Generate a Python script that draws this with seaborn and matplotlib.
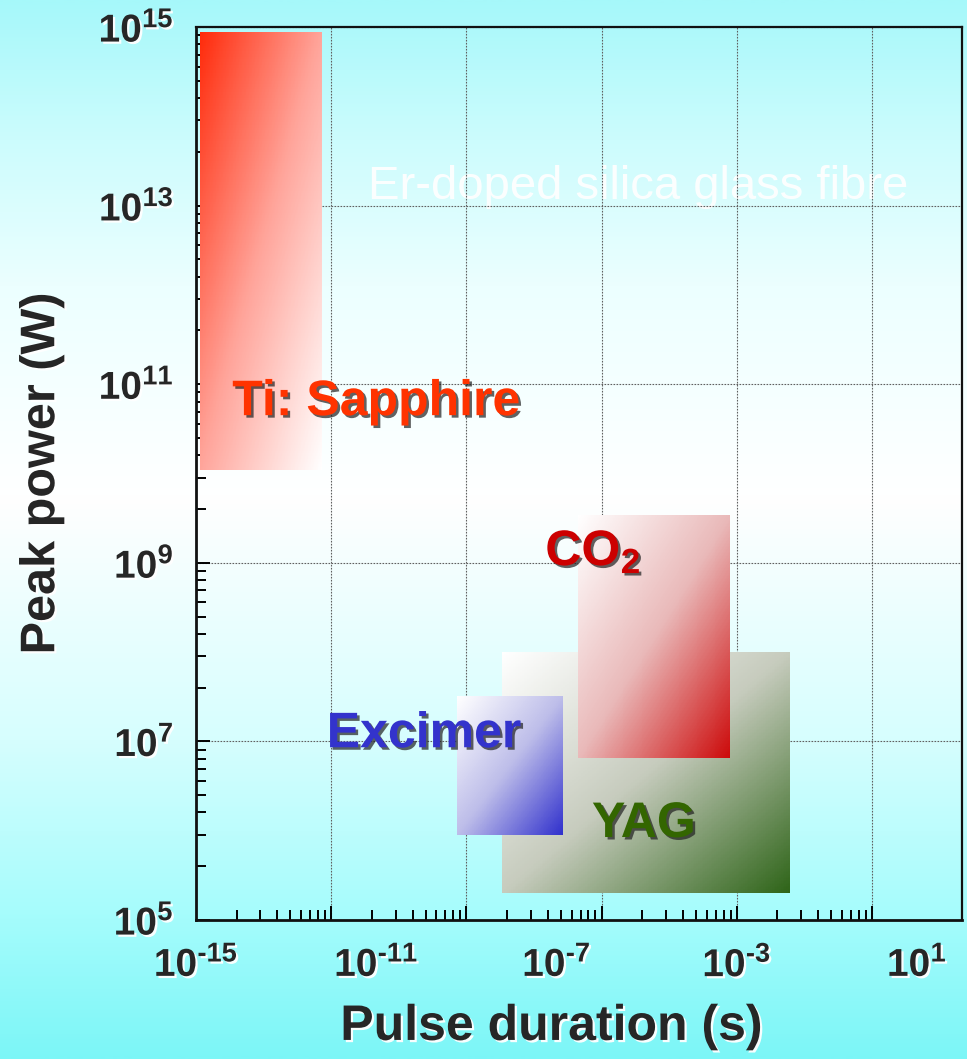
import numpy as np
import matplotlib
matplotlib.use("Agg")
import matplotlib.pyplot as plt
import matplotlib.patheffects as pe
from matplotlib.colors import LinearSegmentedColormap
from matplotlib.ticker import FixedLocator, NullLocator, NullFormatter
import seaborn as sns

# ---------------- data ----------------
lasers = ["Ti: Sapphire", "YAG", "Excimer", "CO2"]
label_text = ["Ti: Sapphire", "YAG", "Excimer", r"$\mathbf{CO_2}$"]
dur_min = [1.2e-15, 6.2e-9, 6.2e-10, 3.0e-7]     # s
dur_max = [6.3e-13, 1.5e-2, 1.4e-7, 7.0e-4]      # s
pow_min = [1.1e10, 2.0e5, 9.0e5, 6.5e6]          # W
pow_max = [8.8e14, 1.0e8, 3.2e7, 3.4e9]          # W
grad_colors = [
    ["#ff2a0a", "#ffa49a", "#ffffff"],
    ["#ffffff", "#c6cbbd", "#2e6418"],
    ["#ffffff", "#bdbde9", "#3030cc"],
    ["#ffffff", "#e9b9b9", "#cc0a0a"],
]
text_colors = ["#ff3300", "#336600", "#3333cc", "#cc0000"]
label_x = [1.0e-11, 8.7e-6, 1.15e-10, 6.5e-7]
label_y = [4.5e10, 8.5e5, 8.6e6, 9.4e8]

xtick_exp = [-15, -11, -7, -3, 1]
ytick_exp = [5, 7, 9, 11, 13, 15]
xgrid_exp = [-12, -9, -6, -3, 0]

fibre_text = "Er-doped silica glass fibre"
fibre_x, fibre_y = 6.5e-6, 1.2e13

# ---------------- style ----------------
sns.set_theme(style="ticks")
FONT = ["Liberation Sans", "DejaVu Sans"]
plt.rcParams["font.family"] = FONT
plt.rcParams["font.weight"] = "bold"
plt.rcParams["mathtext.fontset"] = "custom"
plt.rcParams["mathtext.bf"] = "Liberation Sans:bold"
plt.rcParams["mathtext.rm"] = "Liberation Sans:bold"
plt.rcParams["mathtext.it"] = "Liberation Sans:bold"


def build(use_text_minus):
    fig = plt.figure(figsize=(9.67, 10.59), dpi=100)

    # background gradient
    bg = fig.add_axes([0, 0, 1, 1], zorder=-10)
    bg_cmap = LinearSegmentedColormap.from_list(
        "bg", [(0.0, "#a6f8fa"), (0.13, "#ccfcfd"), (0.27, "#ecffff"), (0.47, "#ffffff"),
               (0.70, "#d6fefe"), (0.87, "#a4fcfc"), (1.0, "#7cf6f7")])
    bg.imshow(np.linspace(0, 1, 512)[:, None], aspect="auto", cmap=bg_cmap,
              extent=[0, 1, 0, 1], origin="upper")
    bg.axis("off")

    ax = fig.add_axes([196 / 967, 1 - 920 / 1059, 766 / 967, 893 / 1059])
    ax.set_facecolor("none")
    ax.set_xscale("log")
    ax.set_yscale("log")
    ax.set_axisbelow(True)

    white_shadow = [pe.withSimplePatchShadow(offset=(1.6, -1.6), shadow_rgbFace="white", alpha=0.95)]
    dark_shadow = [pe.withSimplePatchShadow(offset=(1.8, -1.8), shadow_rgbFace="#202020", alpha=0.7)]

    n = 160
    f = np.linspace(0, 1, n + 1)
    fc = (f[:-1] + f[1:]) / 2
    # u: left->right, v: top->bottom ; rows of mesh go bottom->top
    tgrid = (fc[None, :] + (1 - fc)[:, None]) / 2.0
    z = [1.0, 1.1, 1.2, 1.3]
    for i in range(len(lasers)):
        cmap = sns.blend_palette(grad_colors[i], as_cmap=True)
        xe = np.logspace(np.log10(dur_min[i]), np.log10(dur_max[i]), n + 1)
        ye = np.logspace(np.log10(pow_min[i]), np.log10(pow_max[i]), n + 1)
        ax.pcolormesh(xe, ye, tgrid, cmap=cmap, vmin=0, vmax=1, shading="flat",
                      antialiased=False, edgecolors="none", zorder=z[i])

    for i in range(len(lasers)):
        ax.text(label_x[i], label_y[i], label_text[i], color=text_colors[i], fontsize=36,
                fontweight="bold", ha="center", va="baseline", zorder=6,
                path_effects=dark_shadow)

    ax.text(fibre_x, fibre_y, fibre_text, color="white", fontsize=34, fontweight="normal",
            family="Liberation Sans", ha="center", va="baseline", zorder=0.3, alpha=0.92)

    ax.set_xlim(1e-15, 1e2)
    ax.set_ylim(1e5, 1e15)

    ax.xaxis.set_major_locator(FixedLocator([10.0 ** e for e in xgrid_exp]))
    ax.xaxis.set_major_formatter(NullFormatter())
    xminor = [10.0 ** (g + 3 * np.log10(m)) for g in range(-15, -2, 3) for m in range(2, 10)]
    ax.xaxis.set_minor_locator(FixedLocator(xminor))
    ax.xaxis.set_minor_formatter(NullFormatter())

    def fmt(e):
        if e < 0 and use_text_minus:
            return r"$\mathbf{10^{\text{-}%d}}$" % (-e)
        return r"$\mathbf{10^{%d}}$" % e

    ax.yaxis.set_major_locator(FixedLocator([10.0 ** e for e in ytick_exp]))
    ax.set_yticklabels([fmt(e) for e in ytick_exp])
    yminor = [10.0 ** (g + 2 * np.log10(m)) for g in range(5, 15, 2) for m in range(2, 10)]
    ax.yaxis.set_minor_locator(FixedLocator(yminor))
    ax.yaxis.set_minor_formatter(NullFormatter())

    ax.tick_params(which="both", direction="in", color="black", top=False, right=False)
    ax.tick_params(which="major", length=10, width=1.4)
    ax.tick_params(which="minor", length=7.5, width=1.4)
    ax.tick_params(axis="y", which="major", labelsize=28, pad=16)
    for lab in ax.get_yticklabels():
        lab.set_path_effects(white_shadow)

    ax.grid(which="major", color="#606060", linestyle=(0, (1.5, 1.2)), linewidth=0.8)
    ax.grid(which="minor", visible=False)

    for side in ["left", "bottom"]:
        ax.spines[side].set_linewidth(2.0)
    for side in ["top", "right"]:
        ax.spines[side].set_linewidth(1.6)
    for sp in ax.spines.values():
        sp.set_color("#111111")
        sp.set_zorder(7)

    sec = ax.secondary_xaxis("bottom")
    sec.set_xticks([10.0 ** e for e in xtick_exp], labels=[fmt(e) for e in xtick_exp])
    sec.xaxis.set_minor_locator(NullLocator())
    sec.tick_params(length=0, labelsize=28, pad=19)
    sec.spines["bottom"].set_visible(False)
    for lab in sec.get_xticklabels():
        lab.set_path_effects(white_shadow)

    ax.set_xlabel("Pulse duration (s)", fontsize=36, fontweight="bold", path_effects=white_shadow)
    ax.xaxis.set_label_coords(0.464, -0.094)
    ax.set_ylabel("Peak power (W)", fontsize=35, fontweight="bold", path_effects=white_shadow)
    ax.yaxis.set_label_coords(-0.172, 0.5)
    return fig


try:
    fig = build(True)
    fig.canvas.draw()
except Exception:
    plt.close("all")
    fig = build(False)

fig.savefig("out.png", dpi=100)
